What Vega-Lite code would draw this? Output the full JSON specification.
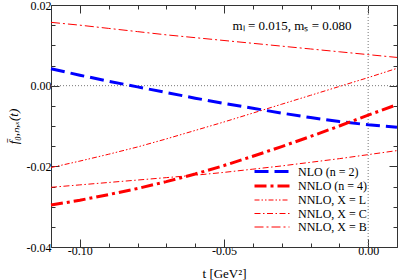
{
  "$schema": "https://vega.github.io/schema/vega-lite/v6.json",
  "width": 346,
  "height": 242,
  "autosize": {"type": "none"},
  "padding": {"left": 51, "top": 5, "right": 2, "bottom": 33},
  "background": "white",
  "config": {
    "view": {"stroke": null},
    "font": "Liberation Serif",
    "axis": {"grid": false, "domainColor": "#333", "tickColor": "#333", "labelFont": "Liberation Serif", "labelFontSize": 12, "labelColor": "black", "titleFont": "Liberation Serif", "titleFontSize": 12, "titleFontWeight": "normal", "titleColor": "black"}
  },
  "data": {"values": [
    {"s": "NLO (n = 2)", "t": -0.11, "v": 0.0042}, {"s": "NLO (n = 2)", "t": -0.10, "v": 0.0026}, {"s": "NLO (n = 2)", "t": -0.09, "v": 0.0011}, {"s": "NLO (n = 2)", "t": -0.08, "v": -0.0003}, {"s": "NLO (n = 2)", "t": -0.07, "v": -0.0017}, {"s": "NLO (n = 2)", "t": -0.06, "v": -0.0031}, {"s": "NLO (n = 2)", "t": -0.05, "v": -0.0044}, {"s": "NLO (n = 2)", "t": -0.04, "v": -0.0056}, {"s": "NLO (n = 2)", "t": -0.03, "v": -0.0068}, {"s": "NLO (n = 2)", "t": -0.02, "v": -0.0079}, {"s": "NLO (n = 2)", "t": -0.01, "v": -0.0089}, {"s": "NLO (n = 2)", "t": 0.00, "v": -0.0097}, {"s": "NLO (n = 2)", "t": 0.01, "v": -0.0103},
    {"s": "NNLO (n = 4)", "t": -0.11, "v": -0.0296}, {"s": "NNLO (n = 4)", "t": -0.10, "v": -0.0284}, {"s": "NNLO (n = 4)", "t": -0.09, "v": -0.0270}, {"s": "NNLO (n = 4)", "t": -0.08, "v": -0.0255}, {"s": "NNLO (n = 4)", "t": -0.07, "v": -0.0238}, {"s": "NNLO (n = 4)", "t": -0.06, "v": -0.0219}, {"s": "NNLO (n = 4)", "t": -0.05, "v": -0.0198}, {"s": "NNLO (n = 4)", "t": -0.04, "v": -0.0175}, {"s": "NNLO (n = 4)", "t": -0.03, "v": -0.0151}, {"s": "NNLO (n = 4)", "t": -0.02, "v": -0.0126}, {"s": "NNLO (n = 4)", "t": -0.01, "v": -0.0100}, {"s": "NNLO (n = 4)", "t": 0.00, "v": -0.0073}, {"s": "NNLO (n = 4)", "t": 0.01, "v": -0.0047},
    {"s": "NNLO, X = L", "t": -0.11, "v": -0.0203}, {"s": "NNLO, X = L", "t": -0.10, "v": -0.0187}, {"s": "NNLO, X = L", "t": -0.09, "v": -0.0170}, {"s": "NNLO, X = L", "t": -0.08, "v": -0.0152}, {"s": "NNLO, X = L", "t": -0.07, "v": -0.0132}, {"s": "NNLO, X = L", "t": -0.06, "v": -0.0111}, {"s": "NNLO, X = L", "t": -0.05, "v": -0.0090}, {"s": "NNLO, X = L", "t": -0.04, "v": -0.0068}, {"s": "NNLO, X = L", "t": -0.03, "v": -0.0046}, {"s": "NNLO, X = L", "t": -0.02, "v": -0.0024}, {"s": "NNLO, X = L", "t": -0.01, "v": -0.0002}, {"s": "NNLO, X = L", "t": 0.00, "v": 0.0020}, {"s": "NNLO, X = L", "t": 0.01, "v": 0.0043},
    {"s": "NNLO, X = C", "t": -0.11, "v": -0.0252}, {"s": "NNLO, X = C", "t": -0.10, "v": -0.0246}, {"s": "NNLO, X = C", "t": -0.09, "v": -0.0240}, {"s": "NNLO, X = C", "t": -0.08, "v": -0.0234}, {"s": "NNLO, X = C", "t": -0.07, "v": -0.0228}, {"s": "NNLO, X = C", "t": -0.06, "v": -0.0222}, {"s": "NNLO, X = C", "t": -0.05, "v": -0.0215}, {"s": "NNLO, X = C", "t": -0.04, "v": -0.0207}, {"s": "NNLO, X = C", "t": -0.03, "v": -0.0199}, {"s": "NNLO, X = C", "t": -0.02, "v": -0.0190}, {"s": "NNLO, X = C", "t": -0.01, "v": -0.0181}, {"s": "NNLO, X = C", "t": 0.00, "v": -0.0171}, {"s": "NNLO, X = C", "t": 0.01, "v": -0.0161},
    {"s": "NNLO, X = B", "t": -0.11, "v": 0.0157}, {"s": "NNLO, X = B", "t": -0.10, "v": 0.0150}, {"s": "NNLO, X = B", "t": -0.09, "v": 0.0142}, {"s": "NNLO, X = B", "t": -0.08, "v": 0.0134}, {"s": "NNLO, X = B", "t": -0.07, "v": 0.0126}, {"s": "NNLO, X = B", "t": -0.06, "v": 0.0119}, {"s": "NNLO, X = B", "t": -0.05, "v": 0.0112}, {"s": "NNLO, X = B", "t": -0.04, "v": 0.0105}, {"s": "NNLO, X = B", "t": -0.03, "v": 0.0098}, {"s": "NNLO, X = B", "t": -0.02, "v": 0.0091}, {"s": "NNLO, X = B", "t": -0.01, "v": 0.0084}, {"s": "NNLO, X = B", "t": 0.00, "v": 0.0077}, {"s": "NNLO, X = B", "t": 0.01, "v": 0.0070}
  ]},
  "layer": [
    {
      "data": {"values": [{}]},
      "mark": {"type": "rule", "color": "#777", "strokeDash": [1, 2], "strokeWidth": 1},
      "encoding": {"y": {"datum": 0, "type": "quantitative", "scale": {"domain": [-0.04, 0.02], "nice": false, "zero": false}, "axis": null}}
    },
    {
      "data": {"values": [{}]},
      "mark": {"type": "rule", "color": "#777", "strokeDash": [1, 2], "strokeWidth": 1},
      "encoding": {"x": {"datum": 0, "type": "quantitative", "scale": {"domain": [-0.11, 0.01], "nice": false, "zero": false}, "axis": null}}
    },
    {
      "mark": {"type": "point", "opacity": 0},
      "encoding": {
        "x": {"field": "t", "type": "quantitative", "scale": {"domain": [-0.11, 0.01], "nice": false, "zero": false},
          "axis": {"orient": "top", "title": null, "labels": false, "values": [-0.11, -0.1, -0.09, -0.08, -0.07, -0.06, -0.05, -0.04, -0.03, -0.02, -0.01, 0, 0.01],
            "tickSize": {"condition": {"test": "abs(round(datum.value*100))%5==0", "value": -8}, "value": -4}}},
        "y": {"field": "v", "type": "quantitative", "scale": {"domain": [-0.04, 0.02], "nice": false, "zero": false},
          "axis": {"orient": "right", "title": null, "labels": false, "values": [-0.04, -0.035, -0.03, -0.025, -0.02, -0.015, -0.01, -0.005, 0, 0.005, 0.01, 0.015, 0.02],
            "tickSize": {"condition": {"test": "abs(round(datum.value*1000))%20==0", "value": -8}, "value": -4}}}
      }
    },
    {
      "mark": {"type": "line"},
      "encoding": {
        "x": {"field": "t", "type": "quantitative", "scale": {"domain": [-0.11, 0.01], "nice": false, "zero": false},
          "axis": {"orient": "bottom", "title": "t  [GeV²]", "titleFontSize": 13, "titleX": 173, "titleY": 26, "titleBaseline": "middle", "labelPadding": 6,
            "values": [-0.11, -0.1, -0.09, -0.08, -0.07, -0.06, -0.05, -0.04, -0.03, -0.02, -0.01, 0, 0.01],
            "labelExpr": "abs(round(datum.value*100))%5==0 ? replace(format(datum.value,'.2f'),'\u2212','-') : ''",
            "tickSize": {"condition": {"test": "abs(round(datum.value*100))%5==0", "value": -8}, "value": -4}}},
        "y": {"field": "v", "type": "quantitative", "scale": {"domain": [-0.04, 0.02], "nice": false, "zero": false},
          "axis": {"orient": "left", "title": "f̄₀,ₙ,ₓ(t)", "titleFontStyle": "italic", "titleFontSize": 13, "titleX": -38, "titleY": 121, "titleAngle": -90, "titleAlign": "center", "titleBaseline": "middle", "labelPadding": 8,
            "values": [-0.04, -0.035, -0.03, -0.025, -0.02, -0.015, -0.01, -0.005, 0, 0.005, 0.01, 0.015, 0.02],
            "labelExpr": "abs(round(datum.value*1000))%20==0 ? replace(format(datum.value,'.2f'),'\u2212','-') : ''",
            "tickSize": {"condition": {"test": "abs(round(datum.value*1000))%20==0", "value": -8}, "value": -4}}},
        "color": {"field": "s", "type": "nominal",
          "scale": {"domain": ["NLO (n = 2)", "NNLO (n = 4)", "NNLO, X = L", "NNLO, X = C", "NNLO, X = B"], "range": ["#0000ff", "#ff0000", "#ff0000", "#ff0000", "#ff0000"]},
          "legend": {"title": null, "orient": "none", "legendX": 214.5, "legendY": 160, "labelFontSize": 12, "labelFont": "Liberation Serif", "labelColor": "black", "symbolType": "M-3.5,0H3.5", "symbolSize": 100, "labelOffset": 19.5, "rowPadding": 1.5, "padding": 0}},
        "strokeDash": {"field": "s", "type": "nominal",
          "scale": {"domain": ["NLO (n = 2)", "NNLO (n = 4)", "NNLO, X = L", "NNLO, X = C", "NNLO, X = B"], "range": [[14, 6], [12, 4, 3, 4], [5, 2, 1.5, 2, 1.5, 2], [6, 2.5, 1.5, 2.5], [9, 3, 2, 3]]},
          "legend": {"title": null, "orient": "none", "legendX": 214.5, "legendY": 160, "labelFontSize": 12, "labelFont": "Liberation Serif", "labelColor": "black", "symbolType": "M-3.5,0H3.5", "symbolSize": 100, "labelOffset": 19.5, "rowPadding": 1.5, "padding": 0}},
        "strokeWidth": {"field": "s", "type": "nominal",
          "scale": {"type": "ordinal", "domain": ["NLO (n = 2)", "NNLO (n = 4)", "NNLO, X = L", "NNLO, X = C", "NNLO, X = B"], "range": [3, 3, 1, 1, 1]},
          "legend": {"title": null, "orient": "none", "legendX": 214.5, "legendY": 160, "labelFontSize": 12, "labelFont": "Liberation Serif", "labelColor": "black", "symbolType": "M-3.5,0H3.5", "symbolSize": 100, "labelOffset": 19.5, "rowPadding": 1.5, "padding": 0}}
      }
    },
    {
      "data": {"values": [{}]},
      "mark": {"type": "text", "text": "mₗ = 0.015,  mₛ = 0.080", "fontSize": 13, "font": "Liberation Serif", "color": "black"},
      "encoding": {
        "x": {"datum": -0.0264, "type": "quantitative", "axis": null},
        "y": {"datum": 0.0149, "type": "quantitative", "axis": null}
      }
    }
  ],
  "resolve": {"axis": {"x": "independent", "y": "independent"}}
}
